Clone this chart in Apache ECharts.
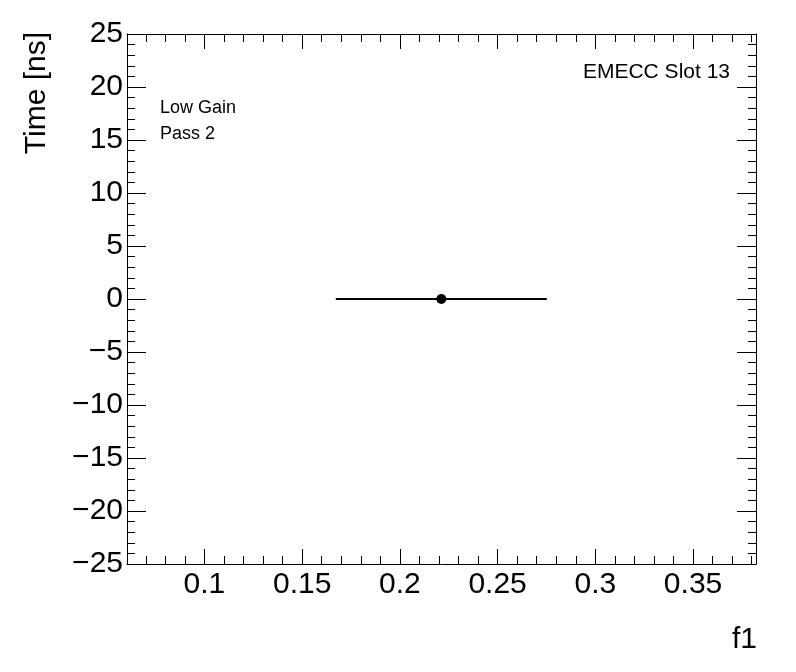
<!DOCTYPE html>
<html>
<head>
<meta charset="utf-8">
<script src="https://cdn.jsdelivr.net/npm/echarts@6/dist/echarts.min.js"></script>
<style>html,body{margin:0;padding:0;background:#fff;}#c{width:796px;height:672px;}</style>
</head>
<body>
<div id="c"></div>
<script>
// Data
const xValues = [0.2212];
const yValues = [0];
const xErrors = [0.054];
const yErrors = [0];
const xMajorTicks = [0.1, 0.15, 0.2, 0.25, 0.3, 0.35];
const xMinorTicks = [0.07,0.08,0.09,0.1,0.11,0.12,0.13,0.14,0.15,0.16,0.17,0.18,0.19,0.2,0.21,0.22,0.23,0.24,0.25,0.26,0.27,0.28,0.29,0.3,0.31,0.32,0.33,0.34,0.35,0.36,0.37,0.38];
const xRange = [0.0604, 0.3822];
const yRange = [-25, 25];
const yStep = 5;
const xTitle = 'f1';
const yTitle = 'Time [ns]';
const notes = ['Low Gain', 'Pass 2'];
const corner = 'EMECC Slot 13';

const FONT = '"Liberation Sans", Arial, Helvetica, sans-serif';
const black = '#000';

const pts = xValues.map((x, i) => [x, yValues[i], xErrors[i], yErrors[i]]);

function xAxisDef(pos, ticks, len, showLine, showLabel) {
  return {
    type: 'value', position: pos, min: xRange[0], max: xRange[1],
    axisLine: { show: showLine, onZero: false, lineStyle: { color: black, width: 1 } },
    axisTick: { show: true, inside: true, length: len, customValues: ticks, lineStyle: { color: black, width: 1 } },
    axisLabel: showLabel ? {
      show: true, customValues: ticks, fontFamily: FONT, fontSize: 30, color: black, margin: 6,
      formatter: v => String(+(+v).toFixed(3))
    } : { show: false },
    splitLine: { show: false }
  };
}
function yAxisDef(pos, showLabel) {
  return {
    type: 'value', position: pos, min: yRange[0], max: yRange[1], interval: yStep,
    axisLine: { show: true, onZero: false, lineStyle: { color: black, width: 1 } },
    axisTick: { show: true, inside: true, length: 19, lineStyle: { color: black, width: 1 } },
    minorTick: { show: true, splitNumber: 5, length: 8, lineStyle: { color: black, width: 1 } },
    axisLabel: showLabel ? {
      show: true, fontFamily: FONT, fontSize: 30, color: black, margin: 4,
      formatter: v => String(v).replace('-', '\u2212')
    } : { show: false },
    splitLine: { show: false }, minorSplitLine: { show: false }
  };
}

const chart = echarts.init(document.getElementById('c'), null, { renderer: 'canvas' });
chart.setOption({
  animation: false,
  backgroundColor: '#fff',
  grid: { left: 127, top: 34, right: 40, bottom: 108, containLabel: false },
  xAxis: [
    xAxisDef('bottom', xMajorTicks, 15, true, true),
    xAxisDef('bottom', xMinorTicks, 8, false, false),
    xAxisDef('top', xMajorTicks, 15, true, false),
    xAxisDef('top', xMinorTicks, 8, false, false)
  ],
  yAxis: [yAxisDef('left', true), yAxisDef('right', false)],
  series: [
    {
      type: 'custom', xAxisIndex: 0, yAxisIndex: 0, data: pts,
      renderItem: function (params, api) {
        const x = api.value(0), y = api.value(1), ex = api.value(2), ey = api.value(3);
        const children = [];
        const a = api.coord([x - ex, y]), b = api.coord([x + ex, y]);
        children.push({ type: 'line', shape: { x1: a[0], y1: a[1], x2: b[0], y2: b[1] }, style: { stroke: black, lineWidth: 2 } });
        if (ey > 0) {
          const c = api.coord([x, y - ey]), d = api.coord([x, y + ey]);
          children.push({ type: 'line', shape: { x1: c[0], y1: c[1], x2: d[0], y2: d[1] }, style: { stroke: black, lineWidth: 2 } });
        }
        return { type: 'group', children: children };
      },
      z: 2
    },
    {
      type: 'scatter', xAxisIndex: 0, yAxisIndex: 0, data: pts.map(p => [p[0], p[1]]),
      symbol: 'circle', symbolSize: 10, itemStyle: { color: black, opacity: 1 }, z: 3
    }
  ],
  graphic: [
    { type: 'text', x: 37, y: 32, rotation: Math.PI / 2,
      style: { text: yTitle, font: '30px ' + FONT, fill: black, align: 'right', verticalAlign: 'middle' } },
    { type: 'text', x: 757, y: 640,
      style: { text: xTitle, font: '30px ' + FONT, fill: black, align: 'right', verticalAlign: 'middle' } },
    { type: 'text', x: 160, y: 108,
      style: { text: notes[0], font: '18px ' + FONT, fill: black, align: 'left', verticalAlign: 'middle' } },
    { type: 'text', x: 160, y: 134,
      style: { text: notes[1], font: '18px ' + FONT, fill: black, align: 'left', verticalAlign: 'middle' } },
    { type: 'text', x: 730, y: 72,
      style: { text: corner, font: '21px ' + FONT, fill: black, align: 'right', verticalAlign: 'middle' } }
  ]
});
</script>
</body>
</html>
